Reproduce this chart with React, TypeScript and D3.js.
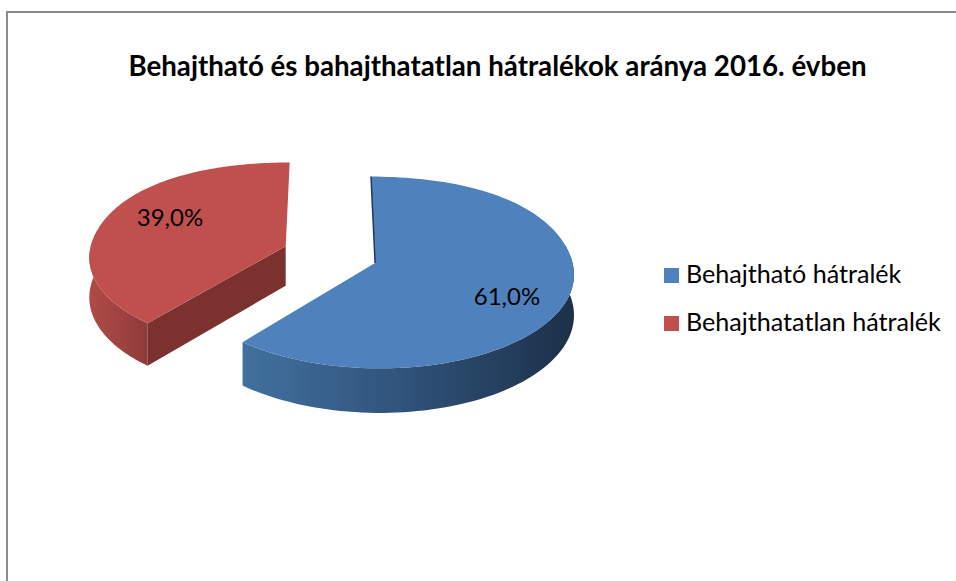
import React from 'react';
import * as d3 from 'd3';

const titleText = 'Behajtható és bahajthatatlan hátralékok aránya 2016. évben';
const categories = ['Behajtható hátralék', 'Behajthatatlan hátralék'];
const shares = [61, 39];
const shareLabels = ['61,0%', '39,0%'];
const sliceColors = ['#4f81bd', '#c0504d'];
const wallColors = ['#1f3a5c', '#7b322f'];
const sideStops = [
  ['#41719f', '#2f5279', '#1c3049'],
  ['#b04a47', '#a04441', '#8c3b39'],
];

// plane offset of each exploded slice from the view centre
const offsets = [
  { x: 45, y: 4 },
  { x: -45, y: -31 },
];
const radii = [197, 198];
const labelPos = [
  { x: 507, y: 305 },
  { x: 170, y: 226 },
];

const W = 956;
const H = 581;
const R = 198;
const vx = 330;
const vy = 261;
const squash = 0.48;
const persp = 0.1;
const depth = 40;
const bulge = 0.025;

const project = (X: number, Y: number, z = 0): [number, number] => {
  const s = 1 / (1 - (persp * Y) / R);
  return [vx + X * s, vy + Y * squash * s + z * s];
};

const pie = d3.pie<number>().value(d => d).sort(null);
const line = d3.line();

const App = () => {
  const arcs = pie(shares);
  const color = d3.scaleOrdinal<number, string>().domain([0, 1]).range(sliceColors);
  const legendY = d3.scalePoint<number>().domain([0, 1]).range([276, 324]);

  const slices = arcs.map((a, i) => {
    const o = offsets[i];
    const angles = d3.range(0, 121).map(k => a.startAngle + ((a.endAngle - a.startAngle) * k) / 120);
    // the far half of the rim is a bit fuller than an ellipse in the original
    const rimPoint = (t: number, z: number) => {
      const r = radii[i] * (Math.cos(t) > 0 ? 1 + bulge * Math.sin(2 * t) ** 2 : 1);
      return project(o.x + r * Math.sin(t), o.y - r * Math.cos(t), z);
    };
    const rim = (z: number) => angles.map(t => rimPoint(t, z));
    const centre = (z: number) => project(o.x, o.y, z);
    // only the part of the rim facing the viewer gets a side wall
    const front = angles.filter(t => Math.cos(t) < 0.2 || Math.sin(t) > 0.98);
    const frontTop = front.map(t => rimPoint(t, 0));
    const frontBottom = front.map(t => rimPoint(t, depth));
    return {
      i,
      top: line([centre(0), ...rim(0)]) + 'Z',
      side: line([...frontTop, ...frontBottom.reverse()]) + 'Z',
      edge: line([centre(0), rimPoint(a.startAngle, 0)]),
      wall: line([centre(0), rim(0)[0], rim(depth)[0], centre(depth)]) + 'Z',
      xs: d3.extent(frontTop, d => d[0]) as [number, number],
    };
  });

  return (
    <svg
      width={W}
      height={H}
      style={{ position: 'absolute', left: 0, top: 0, background: '#fff' }}
      fontFamily="Lato, 'Open Sans', sans-serif"
    >
      <defs>
        {slices.map(s => (
          <linearGradient
            key={s.i}
            id={`side${s.i}`}
            gradientUnits="userSpaceOnUse"
            x1={s.xs[0]}
            x2={s.xs[1]}
            y1={0}
            y2={0}
          >
            {sideStops[s.i].map((c, k) => (
              <stop key={k} offset={k / 2} stopColor={c} />
            ))}
          </linearGradient>
        ))}
      </defs>
      <path d="M7 581V12H956" fill="none" stroke="#8a8a8a" strokeWidth={2} />
      <text x={497.5} y={76} textAnchor="middle" fontSize={27.7} fontWeight={700} fill="#000">
        {titleText}
      </text>

      {[1, 0].map(i => {
        const s = slices[i];
        return (
          <g key={i}>
            <path d={s.side} fill={`url(#side${i})`} />
            {i === 1 && <path d={s.wall} fill={wallColors[1]} />}
            <path d={s.top} fill={color(i)} />
            {i === 0 && <path d={s.edge ?? ''} stroke={wallColors[0]} strokeWidth={1.5} fill="none" />}
            <text x={labelPos[i].x} y={labelPos[i].y} textAnchor="middle" fontSize={24} fill="#000">
              {shareLabels[i]}
            </text>
          </g>
        );
      })}

      {categories.map((c, i) => (
        <g key={c}>
          <rect x={664} y={(legendY(i) as number) - 8} width={15} height={15} fill={color(i)} />
          <text x={686} y={(legendY(i) as number) + 7} fontSize={25.1} fill="#000">
            {c}
          </text>
        </g>
      ))}
    </svg>
  );
};

export default App;
